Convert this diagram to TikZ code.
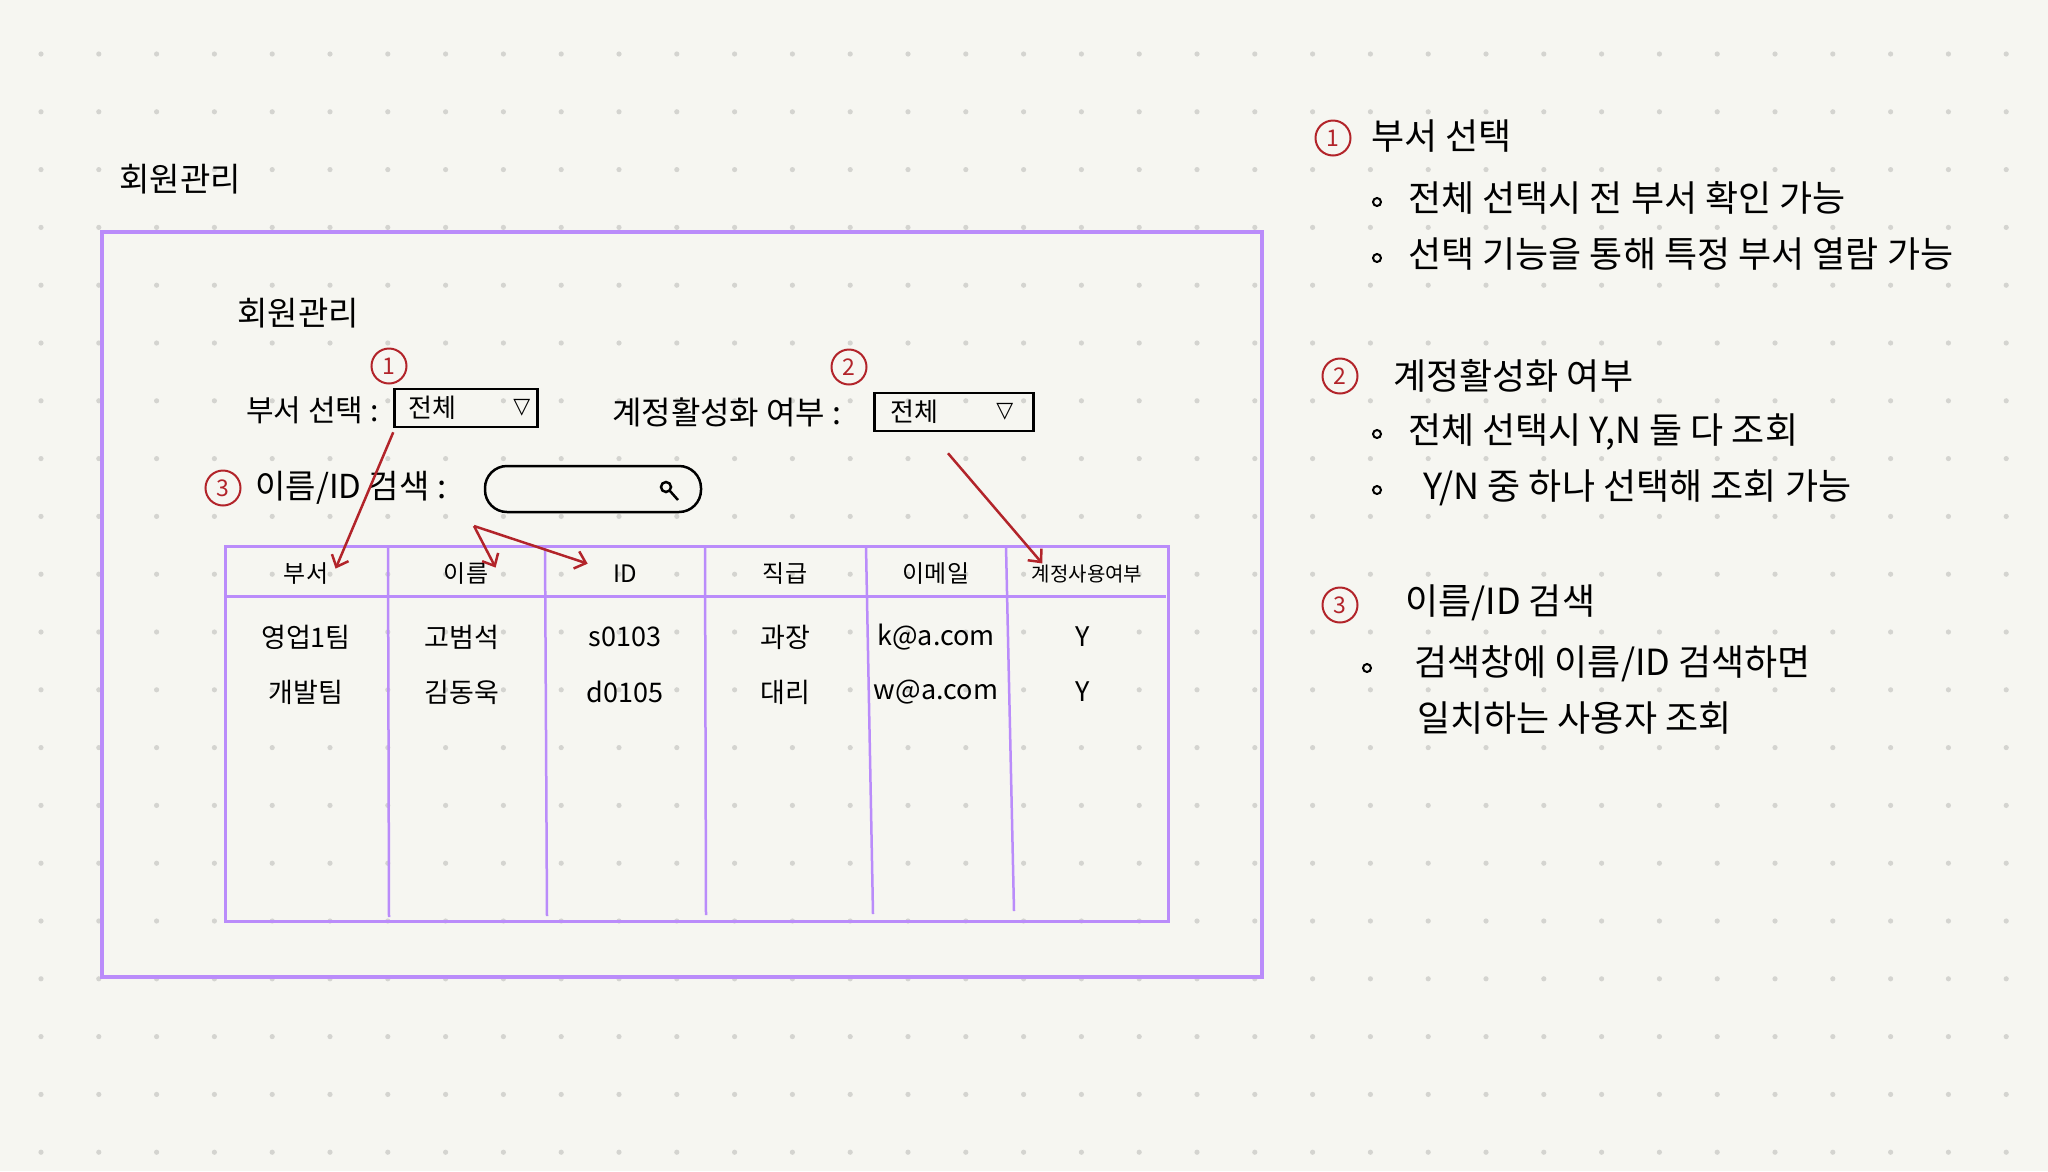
\documentclass[tikz,border=0pt]{standalone}
\usepackage{fontspec}
\setmainfont{Noto Sans CJK KR}
\newfontfamily\symfont{DejaVu Sans}
\usetikzlibrary{arrows.meta,positioning,calc}
\definecolor{paper}{RGB}{246,246,241}
\definecolor{griddot}{RGB}{212,212,208}
\definecolor{wirepurple}{RGB}{186,140,250}
\definecolor{markred}{RGB}{178,36,42}
\newcommand{\fs}[1]{\fontsize{#1}{#1}\selectfont}

\begin{document}
\begin{tikzpicture}[x=1pt, y=-1pt,
  outerframe/.style={draw=wirepurple, line width=3.5pt},
  tabline/.style={draw=wirepurple, line width=3pt},
  dropbox/.style={draw, line width=2.5pt, minimum width=#1, minimum height=38pt, inner sep=0pt},
  num/.style={circle, draw=markred, text=markred, line width=2pt, minimum size=35pt,
              inner sep=0pt, font=\fs{23}},
  ptr/.style={draw=markred, line width=2.5pt, -{Straight Barb[length=10pt,width=18pt]}},
  lbl/.style={font=\fs{30}},
  hd/.style={font=\fs{24}},
  cell/.style={font=\fs{27}},
  note/.style={anchor=west, font=\fs{36}, inner sep=0pt},
  bul/.style={circle, draw, line width=2pt, minimum size=8pt, inner sep=0pt}]

  % paper and dot grid
  \fill[paper] (0,0) rectangle (2048,1171);
  \useasboundingbox (0,0) rectangle (2048,1171);
  \foreach \i in {0,...,34}
    \foreach \j in {0,...,19}
      \fill[griddot] ({41+57.8*\i},{54+57.8*\j}) circle (2.6);

  % screen
  \node[font=\fs{33}] (title) at (180,179) {회원관리};
  \draw[outerframe] (102,232) rectangle (1262,977);
  \node[font=\fs{33}] (subtitle) at (298,313) {회원관리};

  % filters
  \node[lbl, anchor=east] (deptlbl) at (382,410) {부서 선택 :};
  \node[dropbox=143pt] (dd1) at (466,408) {};
  \node[anchor=west, font=\fs{26}] (dd1txt) at ([xshift=12pt]dd1.west) {전체};
  \node[font=\symfont\fs{22}] (dd1arr) at ([xshift=-17pt]dd1.east) {▽};
  \node[num] (n1) at (389,366) {1};

  \node[lbl, anchor=east, font=\fs{32}] (actlbl) at (845,412) {계정활성화 여부 :};
  \node[dropbox=159pt] (dd2) at (954,412) {};
  \node[anchor=west, font=\fs{26}] (dd2txt) at ([xshift=14pt]dd2.west) {전체};
  \node[font=\symfont\fs{22}] (dd2arr) at ([xshift=-30pt]dd2.east) {▽};
  \node[num] (n2) at (849,367) {2};

  % search
  \node[num] (n3) at (223,488) {3};
  \node[lbl, anchor=west, font=\fs{33}] (searchlbl) at (252,488) {이름/ID 검색 :};
  \node[draw, line width=2.5pt, rounded corners=22pt, minimum width=216pt,
        minimum height=46pt] (sbox) at (593,489) {};
  \draw[line width=2.5pt] (666,487) circle (5) (670,491) -- (678,500);

  % table
  \draw[tabline] (225,546) rectangle (1168,921);
  \draw[tabline] (225,596) -- (1166,596);
  \foreach \xa/\xb/\yb in {388/389/917, 545/547/916, 705/706/915, 866/873/914, 1006/1014/911}
    \draw[tabline, line width=2.5pt] (\xa,546) -- (\xb,\yb);

  \foreach \x/\t/\n in {306/부서/h1, 466/이름/h2, 625/ID/h3, 785/직급/h4, 936/이메일/h5}
    \node[hd] (\n) at (\x,574) {\t};
  \node[hd, font=\fs{20}] (h6) at (1087,574) {계정사용여부};

  \foreach \x/\a/\b [count=\c] in {306/영업1팀/개발팀, 462/고범석/김동욱, 625/s0103/d0105,
                                   785/과장/대리, 936/k@a.com/w@a.com, 1083/Y/Y} {
    \node[cell] (r1c\c) at (\x,637) {\a};
    \node[cell] (r2c\c) at (\x,692) {\b};
  }

  % pointers
  \coordinate (fork) at (474,526);
  \draw[ptr] ($(dd1.south west)+(0,4)$) -- ($(h1.north east)+(4,9)$);
  \draw[ptr] (fork) -- ($(h2.north east)+(4,8)$);
  \draw[ptr] (fork) -- ($(h3.north west)+(-22,2)$);
  \draw[ptr] ($(dd2.south)+(-6,21)$) -- ($(h6.north west)+(14,2)$);

  % notes
  \node[num] (m1) at (1333,138) {1};
  \node[note] (m1t) at (1371,136) {부서 선택};
  \node[bul] (m1b1) at (1377,202) {};
  \node[note] (m1l1) at (1408,198) {전체 선택시 전 부서 확인 가능};
  \node[bul] (m1b2) at (1377,258) {};
  \node[note] (m1l2) at (1408,254) {선택 기능을 통해 특정 부서 열람 가능};

  \node[num] (m2) at (1340,376) {2};
  \node[note] (m2t) at (1393,376) {계정활성화 여부};
  \node[bul] (m2b1) at (1377,434) {};
  \node[note] (m2l1) at (1408,432) {전체 선택시 Y,N 둘 다 조회};
  \node[bul] (m2b2) at (1377,490) {};
  \node[note] (m2l2) at (1423,488) {Y/N 중 하나 선택해 조회 가능};

  \node[num] (m3) at (1340,605) {3};
  \node[note] (m3t) at (1405,603) {이름/ID 검색};
  \node[bul] (m3b1) at (1367,668) {};
  \node[note] (m3l1) at (1414,664) {검색창에 이름/ID 검색하면};
  \node[note] (m3l2) at (1417,718) {일치하는 사용자 조회};
\end{tikzpicture}
\end{document}
